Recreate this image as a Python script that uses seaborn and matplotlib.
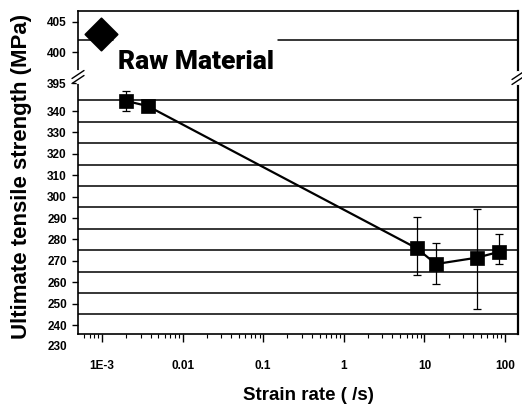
import numpy as np
import matplotlib
matplotlib.use("Agg")
import matplotlib.pyplot as plt
import seaborn as sns
from matplotlib.ticker import LogLocator, NullFormatter, FixedLocator, FixedFormatter
from matplotlib.lines import Line2D

# ---- data ----
strain_rate = [0.002, 0.0037, 8.0, 13.9, 45.3, 84.4]
uts = [344.7, 342.3, 275.9, 268.5, 271.5, 274.2]
err_minus = [4.7, 0.0, 12.4, 9.1, 23.9, 5.7]
err_plus = [4.6, 0.0, 14.4, 9.8, 22.8, 8.3]
raw_rate = [0.00096]
raw_uts = [403.1]

x_ticks = [1e-3, 1e-2, 1e-1, 1, 10, 100]
x_tick_labels = ["1E-3", "0.01", "0.1", "1", "10", "100"]
y_ticks_low = [340, 330, 320, 310, 300, 290, 280, 270, 260, 250, 240]
y_ticks_high = [405, 400, 395]
grid_low = [345, 335, 325, 315, 305, 295, 285, 275, 265, 255, 245]
grid_high = [402]

sns.set_style("ticks")
plt.rcParams["font.family"] = ["Liberation Sans", "DejaVu Sans"]
plt.rcParams["text.color"] = "black"
plt.rcParams["axes.labelcolor"] = "black"
plt.rcParams["xtick.color"] = "black"
plt.rcParams["ytick.color"] = "black"

W, H = 522, 407
fig = plt.figure(figsize=(W / 100, H / 100), dpi=100)

def fx(px):
    return px / W

def fy(py):
    return 1 - py / H

left, right = 78, 518
top, brk, bottom = 11, 83, 334
ax_hi = fig.add_axes([fx(left), fy(brk), fx(right) - fx(left), (brk - top) / H])
ax_lo = fig.add_axes([fx(left), fy(bottom), fx(right) - fx(left), (bottom - brk) / H])

for ax in (ax_hi, ax_lo):
    ax.set_xscale("log")
    ax.set_xlim(5.03e-4, 145)
    ax.set_facecolor("white")
    for s in ax.spines.values():
        s.set_color("black")
        s.set_linewidth(1.2)

ax_hi.set_ylim(395, 406.8)
ax_lo.set_ylim(235.8, 353.1)
ax_hi.spines["bottom"].set_visible(False)
ax_lo.spines["top"].set_visible(False)
ax_lo.spines["right"].set_linewidth(1.6)
ax_hi.spines["right"].set_linewidth(1.6)

# gridlines
for v in grid_low:
    ax_lo.axhline(v, color="black", lw=1.1, zorder=0.5)
for v in grid_high:
    ax_hi.axhline(v, xmin=0, xmax=0.08, color="black", lw=1.1, zorder=0.5)
    ax_hi.axhline(v, xmin=0.455, xmax=1, color="black", lw=1.1, zorder=0.5)

# data
ax_lo.errorbar(strain_rate, uts, yerr=[err_minus, err_plus], fmt="none",
               ecolor="black", elinewidth=0.9, capsize=2.6, capthick=0.9, zorder=1.5)
sns.lineplot(x=strain_rate, y=uts, ax=ax_lo, color="black", lw=1.6,
             marker="s", markersize=10.5, markerfacecolor="black",
             markeredgecolor="black", markeredgewidth=0.5, zorder=3, sort=False)
sns.scatterplot(x=raw_rate, y=raw_uts, ax=ax_hi, marker="D", s=270,
                color="black", edgecolor="black", zorder=3, clip_on=False)

ax_hi.text(0.00158, 398.4, "Raw Material", ha="left", va="center",
           fontsize=19, fontweight=900,
           family=["Roboto", "Liberation Sans"], color="black")

# ticks
ax_hi.set_xticks([])
ax_hi.xaxis.set_minor_locator(FixedLocator([]))
ax_hi.tick_params(axis="x", which="both", bottom=False, labelbottom=False)
ax_hi.set_yticks(y_ticks_high)
ax_hi.set_yticklabels([str(v) for v in y_ticks_high])
ax_lo.set_yticks(y_ticks_low)
ax_lo.set_yticklabels([str(v) for v in y_ticks_low])
for ax in (ax_hi, ax_lo):
    ax.tick_params(axis="y", direction="out", length=4, width=1, pad=4,
                   labelsize=8.5, colors="black")
    ax.set_ylabel("")
    ax.set_xlabel("")
    for lab in ax.get_yticklabels():
        lab.set_fontweight("bold")

ax_lo.xaxis.set_major_locator(FixedLocator(x_ticks))
ax_lo.xaxis.set_major_formatter(FixedFormatter(x_tick_labels))
ax_lo.xaxis.set_minor_locator(LogLocator(base=10, subs=np.arange(2, 10)))
ax_lo.xaxis.set_minor_formatter(NullFormatter())
ax_lo.tick_params(axis="x", which="major", direction="out", length=6, width=1,
                  pad=13, labelsize=8.5, colors="black")
ax_lo.tick_params(axis="x", which="minor", direction="out", length=3, width=0.8)
for lab in ax_lo.get_xticklabels():
    lab.set_fontweight("bold")

# the "230" label sits below the axis end
ax_lo.text(-0.025, 229.7, "230", transform=ax_lo.get_yaxis_transform(),
           ha="right", va="center", fontsize=8.5, fontweight="bold", clip_on=False)

# axis titles
fig.text(fx(22), fy(176), "Ultimate tensile strength (MPa)", rotation=90,
         ha="center", va="center", fontsize=16, fontweight="bold", color="black")
fig.text(fx(308), fy(396), "Strain rate ( /s)", ha="center", va="center",
         fontsize=13.5, fontweight="bold", color="black")

# break marks
def brk_marks(xc, yc):
    fig.add_artist(Line2D([fx(xc), fx(xc)], [fy(yc - 5), fy(yc + 5)],
                          color="white", lw=3, transform=fig.transFigure))
    for dy in (-2.5, 2.5):
        fig.add_artist(Line2D([fx(xc - 6), fx(xc + 6)], [fy(yc + 4 + dy), fy(yc - 4 + dy)],
                              color="black", lw=1.0, transform=fig.transFigure))

brk_marks(78, 77)
brk_marks(518, 78)

fig.savefig("out.png", dpi=100)
